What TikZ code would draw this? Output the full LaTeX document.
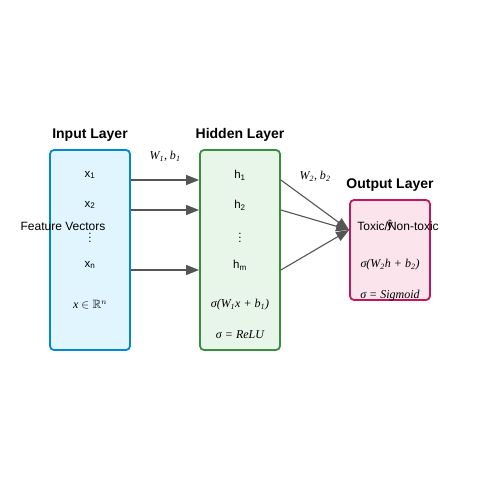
\documentclass[tikz,border=0pt]{standalone}
\usepackage{amssymb}
\usepackage{fontspec}
\setmainfont{Liberation Sans}
\newfontfamily\tnr{Liberation Serif}
\usetikzlibrary{arrows.meta,calc}
\definecolor{inB}{HTML}{0288D1}
\definecolor{inF}{HTML}{E1F5FE}
\definecolor{hiB}{HTML}{388E3C}
\definecolor{hiF}{HTML}{E8F5E9}
\definecolor{ouB}{HTML}{C2185B}
\definecolor{ouF}{HTML}{FCE4EC}
\definecolor{arr}{HTML}{555555}
\tikzset{
  layerbox/.style={draw, line width=1.8pt, rounded corners=4pt, minimum width=80pt, inner sep=0pt},
  title/.style={font=\fontsize{14}{16}\selectfont\bfseries, inner sep=0pt},
  txt/.style={font=\fontsize{11.5}{13}\selectfont, inner sep=0pt},
  mth/.style={font=\fontsize{12}{14}\selectfont\tnr\itshape, inner sep=0pt},
  conn/.style={draw=arr, line width=1.4pt, -{Triangle[length=13pt,width=10pt]}},
  conn2/.style={draw=arr, line width=1.1pt, -{Triangle[length=13pt,width=10pt]}},
}
\begin{document}
\begin{tikzpicture}[x=1pt,y=-1pt]
\useasboundingbox (0,0) rectangle (500,500);
\fill[white] (0,0) rectangle (500,500);
% boxes
\node[layerbox, draw=inB, fill=inF, minimum height=200pt] (inbox) at (90,250) {};
\node[layerbox, draw=hiB, fill=hiF, minimum height=200pt] (hidbox) at (240,250) {};
\node[layerbox, draw=ouB, fill=ouF, minimum height=100pt] (outbox) at (390,250) {};
% titles
\node[title] (tin) at (90,135) {Input Layer};
\node[title] (thid) at (240,135) {Hidden Layer};
\node[title] (tout) at (390,185) {Output Layer};
% input texts
\node[txt] (x1) at (90,175) {x\textsubscript{1}};
\node[txt] (x2) at (90,205) {x\textsubscript{2}};
\node[txt] (xd) at (90,235) {$\vdots$};
\node[txt] (xn) at (90,265) {x\textsubscript{n}};
\node[mth] (xr) at (90,305) {x $\in\mathbb{R}^n$};
\node[txt, font=\fontsize{12}{14}\selectfont] (fv) at (63,226) {Feature Vectors};
% hidden texts
\node[txt] (h1) at (240,175) {h\textsubscript{1}};
\node[txt] (h2) at (240,205) {h\textsubscript{2}};
\node[txt] (hd) at (240,235) {$\vdots$};
\node[txt] (hm) at (240,265) {h\textsubscript{m}};
\node[mth] (hf) at (240,305) {σ(W\textsubscript{1}x + b\textsubscript{1})};
\node[mth] (hr) at (240,335) {σ = ReLU};
% output texts
\node[txt, font=\fontsize{12}{14}\selectfont] (tox) at (398,226) {Toxic/Non-toxic};
\node[txt] (yh) at (390,226) {ŷ};
\node[mth] (of) at (390,265) {σ(W\textsubscript{2}h + b\textsubscript{2})};
\node[mth] (os) at (390,296) {σ = Sigmoid};
% weight labels
\node[mth] (w1) at (165,156) {W\textsubscript{1}, b\textsubscript{1}};
\node[mth] (w2) at (315,176) {W\textsubscript{2}, b\textsubscript{2}};
% connector endpoints
\coordinate (a1) at (inbox.east |- 0,180);
\coordinate (a2) at (inbox.east |- 0,210);
\coordinate (a3) at (inbox.east |- 0,270);
\coordinate (b1) at (hidbox.west |- 0,180);
\coordinate (b2) at (hidbox.west |- 0,210);
\coordinate (b3) at (hidbox.west |- 0,270);
\coordinate (c1) at (hidbox.east |- 0,180);
\coordinate (c2) at (hidbox.east |- 0,210);
\coordinate (c3) at (hidbox.east |- 0,270);
\coordinate (d) at (outbox.west |- 0,230);
\draw[conn] (a1) -- (b1);
\draw[conn] (a2) -- (b2);
\draw[conn] (a3) -- (b3);
\draw[conn2] (c1) -- (d);
\draw[conn2] (c2) -- (d);
\draw[conn2] (c3) -- (d);
\end{tikzpicture}
\end{document}
